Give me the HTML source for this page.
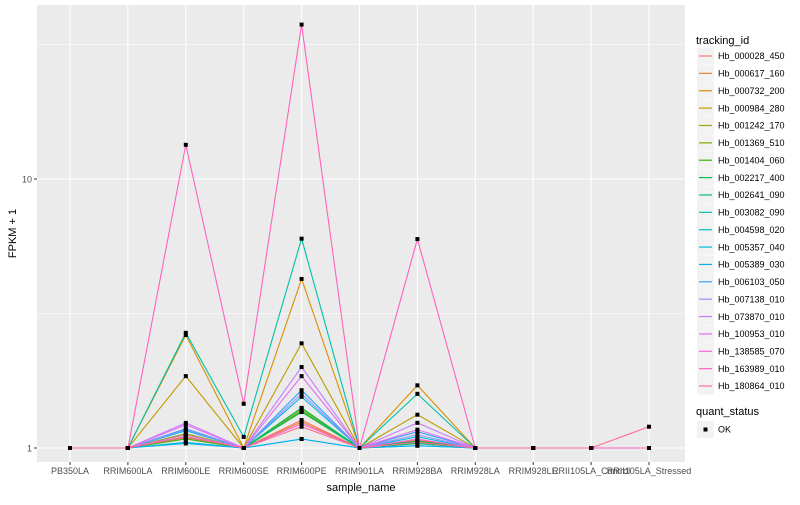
<!DOCTYPE html>
<html><head><meta charset="utf-8"><style>
body{margin:0;background:#fff;font-family:"Liberation Sans",sans-serif}
svg text{font-family:"Liberation Sans",sans-serif}
</style></head><body>
<svg id="c" width="800" height="500" xmlns="http://www.w3.org/2000/svg"></svg>
<script>
const categories=["PB350LA","RRIM600LA","RRIM600LE","RRIM600SE","RRIM600PE","RRIM901LA","RRIM928BA","RRIM928LA","RRIM928LE","RRII105LA_Control","RRII105LA_Stressed"];
const seriesNames=["Hb_000028_450","Hb_000617_160","Hb_000732_200","Hb_000984_280","Hb_001242_170","Hb_001369_510","Hb_001404_060","Hb_002217_400","Hb_002641_090","Hb_003082_090","Hb_004598_020","Hb_005357_040","Hb_005389_030","Hb_006103_050","Hb_007138_010","Hb_073870_010","Hb_100953_010","Hb_138585_070","Hb_163989_010","Hb_180864_010"];
const colors=["#F8766D","#EA8331","#D89000","#C09B00","#A3A500","#7CAE00","#39B600","#00BB4E","#00BF7D","#00C1A3","#00BFC4","#00BAE0","#00B0F6","#35A2FF","#9590FF","#C77CFF","#E76BF3","#FA62DB","#FF62BC","#FF6C91"];
const values=[
[1,1,1.09,1,1.27,1,1.07,1,1,1,1],
[1,1,1.10,1,1.25,1,1.06,1,1,1,1],
[1,1,2.63,1,4.25,1,1.71,1,1,1,1],
[1,1,1.85,1,2.45,1,1.33,1,1,1,1],
[1,1,1.12,1,1.38,1,1.05,1,1,1,1],
[1,1,1.13,1,1.40,1,1.05,1,1,1,1],
[1,1,1.08,1,1.36,1,1.04,1,1,1,1],
[1,1,1.10,1,1.41,1,1.06,1,1,1,1],
[1,1,1.10,1,1.37,1,1.04,1,1,1,1],
[1,1,2.68,1.1,6.0,1,1.59,1,1,1,1],
[1,1,1.05,1,1.08,1,1.02,1,1,1,1],
[1,1,1.16,1,1.55,1,1.10,1,1,1,1],
[1,1,1.04,1,1.08,1,1.02,1,1,1,1],
[1,1,1.18,1,1.64,1,1.15,1,1,1,1],
[1,1,1.17,1,1.59,1,1.12,1,1,1,1],
[1,1,1.24,1,2.0,1,1.24,1,1,1,1],
[1,1,1.22,1,1.85,1,1.17,1,1,1,1],
[1,1,1.12,1,1.23,1,1.08,1,1,1,1],
[1,1,13.4,1.46,37.5,1,5.98,1,1,1,1],
[1,1,1.10,1,1.20,1,1.05,1,1,1,1.2]];
const yTicks=[1,10];
const yTickLabels=["1","10"];

const svg=document.getElementById('c');
const NS="http://www.w3.org/2000/svg";
function el(t,a,p){const e=document.createElementNS(NS,t);for(const k in a)e.setAttribute(k,a[k]);(p||svg).appendChild(e);return e;}
const PL=37,PR=685,PT=5,PB=462;
const xS=i=>70+i*57.9;
const yS=v=>448-Math.log10(v)*269;
const panel=el('rect',{x:PL,y:PT,width:PR-PL,height:PB-PT,fill:'#EBEBEB'});


[0.5,1.5].forEach(m=>{const g=el('line',{x1:PL,x2:PR,y1:yS(Math.pow(10,m)),y2:yS(Math.pow(10,m)),stroke:'#fff','stroke-width':0.5});

});
yTicks.forEach((t,i)=>{const y=yS(t);
const g=el('line',{x1:PL,x2:PR,y1:y,y2:y,stroke:'#fff','stroke-width':1.1});


el('line',{x1:PL-3,x2:PL,y1:y,y2:y,stroke:'#333'});
const tx=el('text',{x:PL-5,y:y+3.5,'text-anchor':'end','font-size':9,fill:'#4D4D4D'});tx.textContent=yTickLabels[i];

});
categories.forEach((c,i)=>{const x=xS(i);
const g=el('line',{x1:x,x2:x,y1:PT,y2:PB,stroke:'#fff','stroke-width':1.1});


el('line',{x1:x,x2:x,y1:PB,y2:PB+3,stroke:'#333'});
const tx=el('text',{x:x,y:PB+12,'text-anchor':'middle','font-size':9,fill:'#4D4D4D'});tx.textContent=c;

});
values.forEach((s,k)=>{const pts=s.map((v,i)=>xS(i)+','+yS(v)).join(' ');
const l=el('polyline',{points:pts,fill:'none',stroke:colors[k],'stroke-width':1.1});

});
values.forEach((s,k)=>s.forEach((v,i)=>{const p=el('rect',{x:xS(i)-2,y:yS(v)-2,width:4,height:4,fill:'#000'});

}));
const xt=el('text',{x:(PL+PR)/2,y:491,'text-anchor':'middle','font-size':11});xt.textContent='sample_name';


const yt=el('text',{x:0,y:0,'text-anchor':'middle','font-size':11,transform:'translate(16,'+((PT+PB)/2)+') rotate(-90)'});yt.textContent='FPKM + 1';


const lt=el('text',{x:696,y:44,'font-size':11});lt.textContent='tracking_id';


seriesNames.forEach((n,k)=>{const cy=56+k*17.37;
const g=el('g',{});


el('rect',{x:697,y:cy-8.5,width:17,height:17,fill:'#F2F2F2'},g);
el('line',{x1:699,x2:712,y1:cy,y2:cy,stroke:colors[k],'stroke-width':1.2},g);
const t=el('text',{x:718,y:cy+3.2,'font-size':9},g);t.textContent=n;});
const qt=el('text',{x:696,y:415,'font-size':11});qt.textContent='quant_status';


const qg=el('g',{});


el('rect',{x:697,y:421,width:17,height:17,fill:'#F2F2F2'},qg);
el('rect',{x:703.5,y:427.5,width:4,height:4,fill:'#000'},qg);
const ot=el('text',{x:718,y:432.7,'font-size':9},qg);ot.textContent='OK';
</script>
</body></html>
